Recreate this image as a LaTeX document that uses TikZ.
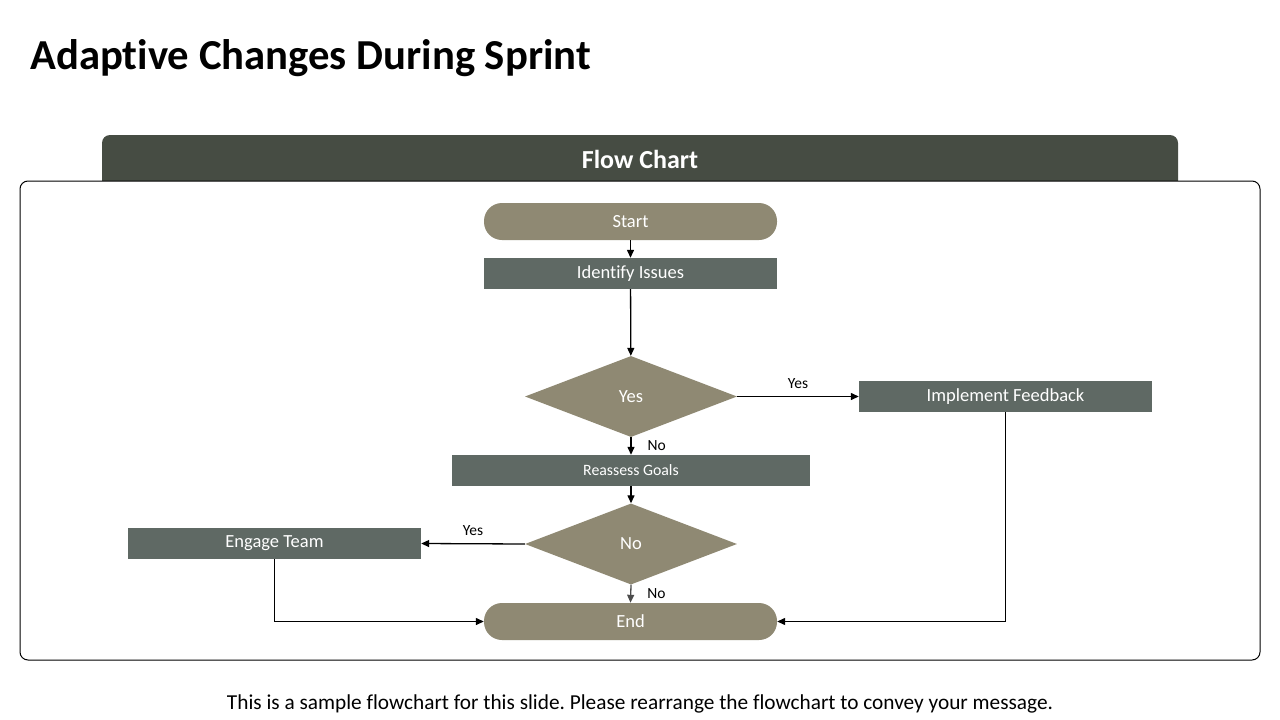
\documentclass[tikz,border=0pt]{standalone}
\usepackage{fontspec}
\setmainfont{Carlito}[Ligatures=NoCommon]
\usetikzlibrary{arrows.meta,shapes.geometric}
\definecolor{khaki}{HTML}{8F8973}
\definecolor{slate}{HTML}{5F6964}
\definecolor{hdr}{HTML}{464C43}
\begin{document}
\frenchspacing
\begin{tikzpicture}[x=1pt,y=-1pt,
  pill/.style={draw=none,fill=khaki,rounded corners=18pt,minimum width=293pt,minimum height=37pt,inner sep=0pt,text=white,font=\fontsize{18.5}{20}\selectfont},
  boxn/.style={draw=none,fill=slate,minimum height=31pt,inner sep=0pt,text=white,font=\fontsize{18.5}{20}\selectfont},
  dia/.style={diamond,draw=none,fill=khaki,minimum width=212pt,minimum height=81pt,inner sep=0pt,text=white,font=\fontsize{18.5}{20}\selectfont},
  conn/.style={draw=black,line width=1.3pt,-{Triangle[width=7pt,length=8pt]}},
  lbl/.style={font=\fontsize{15.5}{17}\selectfont,inner sep=2pt}
]
\useasboundingbox (0,0) rectangle (1280,720);
\fill[white] (0,0) rectangle (1280,720);
% title
\node[anchor=base west,inner sep=0pt,font=\bfseries\fontsize{42.7}{48}\selectfont] (title) at (30,69) {Adaptive Changes During Sprint};
% header tab
\fill[hdr,rounded corners=8pt] (102,135) rectangle (1178,195);
\node[text=white,font=\bfseries\fontsize{26}{30}\selectfont] (hdrtext) at (640,159) {Flow Chart};
% main box
\draw[fill=white,line width=1pt,rounded corners=8pt] (20,181) rectangle (1260,660);
% nodes
\node[pill] (start) at (630.5,221.5) {Start};
\node[boxn,minimum width=293pt] (identify) at (630.5,273.5) {Identify Issues};
\node[dia] (d1) at (631,396.5) {Yes};
\node[boxn,minimum width=293pt] (impl) at (1005.5,396.5) {Implement Feedback};
\node[boxn,minimum width=358pt,font=\fontsize{15.8}{17}\selectfont] (reassess) at (631,470.5) {Reassess Goals};
\node[dia] (d2) at (631,544) {No};
\node[boxn,minimum width=293pt] (engage) at (274.5,543.5) {Engage Team};
\node[pill] (end) at (630.5,621.5) {End};
% connectors
\draw[conn] (start) -- (identify);
\draw[conn] (identify) -- (d1);
\draw[conn] (d1.east) -- node[lbl,above,yshift=5pt] (l1) {Yes} (impl.west);
\draw[conn] (d1.south) -- node[lbl,right,xshift=14pt] (l2) {No} (reassess.north);
\draw[conn] (reassess) -- (d2);
\draw[conn] (d2.west) -- node[lbl,above,yshift=5pt] (l3) {Yes} (engage.east);
\draw[conn,draw=black!70] (d2.south) -- node[lbl,right,xshift=14pt] (l4) {No} (end.north);
\draw[conn] (engage.south) |- (end.west);
\draw[conn] (impl.south) |- (end.east);
% footer
\node[font=\fontsize{21.3}{24}\selectfont] (footer) at (640,704) {This is a sample flowchart for this slide. Please rearrange the flowchart to convey your message.};
\end{tikzpicture}
\end{document}
